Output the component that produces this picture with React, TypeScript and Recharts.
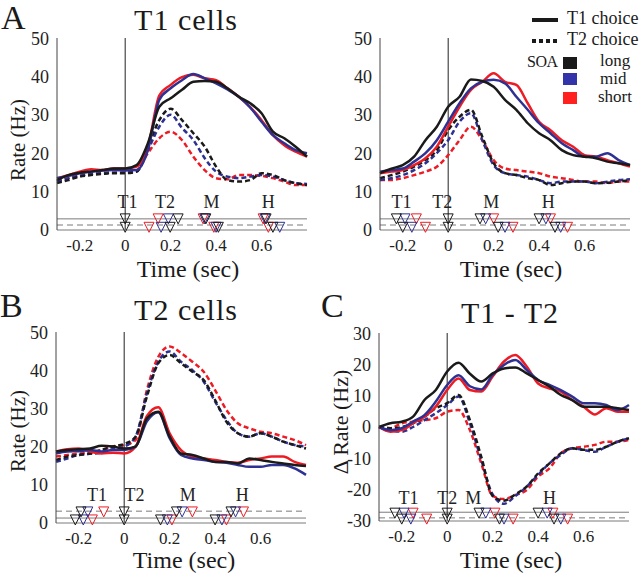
import { ComposedChart, Line, Scatter, XAxis, YAxis, ReferenceLine } from 'recharts'

const FONT = "'Liberation Serif', 'Times New Roman', serif"
const BLACK = '#1a1a1a'
const BLUE = '#2e3192'
const RED = '#ed1c24'
const GRID = '#7a7a7a'

// time axis (sec)
const TIME = [-0.3, -0.25, -0.2, -0.15, -0.1, -0.05, 0, 0.05, 0.1, 0.15, 0.2, 0.25, 0.3, 0.35, 0.4, 0.45, 0.5, 0.55, 0.6, 0.65, 0.7, 0.75, 0.8]
const X_TICKS = [-0.2, 0, 0.2, 0.4, 0.6]
const RATE_TICKS = [0, 10, 20, 30, 40, 50]
const DIFF_TICKS = [-30, -20, -10, 0, 10, 20, 30]

// A, left: T1 cells aligned on T1
const A1_SOLID_LONG = [13, 14.3, 14.9, 15.2, 15.6, 16, 16, 16.9, 22.6, 32.1, 34.3, 36.5, 38.6, 38.8, 38.6, 36.9, 34.7, 33, 30.4, 25.6, 23.9, 21.7, 19.1]
const A1_SOLID_MID = [13.5, 14.1, 14.8, 15.2, 15.5, 15.6, 15.5, 15.6, 20.8, 33.9, 36.9, 39, 40.6, 39.5, 38.2, 36.6, 34.7, 31.9, 28.2, 24.7, 22.6, 20.8, 20]
const A1_SOLID_SHORT = [13.5, 14.3, 15.2, 15.8, 15.6, 16, 16, 16.5, 21.7, 35, 37.8, 39.8, 40.4, 39.5, 39, 36.9, 34.7, 32, 28.6, 24.7, 22.1, 20.4, 19.1]
const A1_DASH_LONG = [12.2, 13, 13.9, 14.3, 14.6, 14.8, 14.8, 15.2, 21.7, 28.6, 31.6, 28.6, 25.2, 21.7, 16.5, 13, 12.6, 13, 14.8, 14.3, 13, 12.2, 11.7]
const A1_DASH_MID = [12.6, 13.5, 14.1, 14.6, 14.8, 14.9, 14.9, 15.2, 20.8, 26.9, 30, 26.6, 23.4, 18.7, 15.2, 13.9, 13.5, 13.9, 14.3, 13.9, 13, 12.2, 12]
const A1_DASH_SHORT = [12.6, 13.5, 14.1, 14.6, 14.8, 14.9, 14.9, 15.5, 20, 23.9, 25.6, 23.4, 19.1, 15.6, 13.5, 13.2, 14.3, 14.3, 14.1, 13.5, 12.6, 11.7, 11.7]

// A, right: T1 cells aligned on T2
const A2_SOLID_LONG = [14.8, 16, 16.9, 19.1, 23.4, 26.9, 32.1, 34.7, 39.2, 38.8, 37.3, 33.9, 31.3, 27.8, 25.2, 23.4, 20.8, 19.5, 19.1, 18.7, 17.8, 17.4, 16.9]
const A2_SOLID_MID = [15.2, 15.6, 16, 17.8, 20, 23.4, 28.2, 33, 36.9, 38.6, 39.1, 38.2, 34.7, 31.3, 27.8, 25.2, 22.6, 20.8, 19.1, 19.1, 20, 18.2, 16.9]
const A2_SOLID_SHORT = [14.8, 15.2, 15.6, 16.9, 18.7, 21.7, 26.9, 32.1, 36.5, 38.6, 40.8, 38.6, 37.8, 33, 28.2, 26, 23.4, 21.7, 19.5, 19.1, 18.2, 17.4, 16.5]
const A2_DASH_LONG = [13.5, 14.3, 15.2, 16.5, 18.2, 20.8, 26, 29.5, 31.3, 24.3, 17.4, 14.8, 14.3, 13.5, 13, 11.7, 12.2, 12.6, 12.6, 12.2, 12.3, 12.6, 13]
const A2_DASH_MID = [13, 13.5, 14.3, 15.6, 17.4, 20, 23.4, 28.2, 30.4, 23.4, 16.9, 14.8, 14.3, 13.9, 13, 12.2, 12.6, 12.6, 12.6, 12.2, 12.6, 13, 13.2]
const A2_DASH_SHORT = [13, 13, 13.5, 14.3, 15.2, 16.5, 19.5, 23.4, 26.9, 23.4, 18.2, 16, 15.6, 15.2, 14.8, 13.9, 13.5, 13, 12.6, 12.6, 12.2, 12.6, 12.6]

// B: T2 cells aligned on T2
const B_SOLID_LONG = [18.7, 19.1, 19.3, 19.5, 20.2, 20, 19.5, 20, 27.4, 29.1, 22.6, 18.2, 17.8, 16.9, 16, 16, 15.6, 16.9, 16.5, 16, 15.6, 15.2, 14.9]
const B_SOLID_MID = [18.2, 18.7, 18.8, 19.1, 18.7, 19.1, 19.1, 20, 26.6, 29, 22.2, 17.8, 16.9, 16.5, 16, 15.8, 15.2, 14.7, 14.7, 15.2, 15.2, 14.3, 12.6]
const B_SOLID_SHORT = [18.7, 19.3, 19.5, 18.7, 18.2, 18.4, 18.2, 20, 28, 30.3, 23.5, 19.1, 17.4, 16.9, 16.5, 16, 15.8, 16.5, 16.9, 17.4, 17.4, 16, 15.2]
const B_DASH_LONG = [16.5, 17.4, 17.8, 18.2, 19.1, 20, 20.7, 22.6, 33.1, 41.8, 44, 41.8, 39.6, 37.4, 32.2, 26.5, 23.5, 22.6, 23.5, 22.6, 21.3, 20.4, 19.5]
const B_DASH_MID = [16, 16.9, 17.8, 18.1, 18.4, 19.3, 20, 22.6, 34, 42.2, 44.9, 42.2, 40, 37, 31.8, 27, 23.5, 22.6, 23.5, 22.6, 21.3, 20.4, 20]
const B_DASH_SHORT = [17.4, 17.8, 18.2, 18.4, 19.1, 20, 20.4, 21.7, 34.8, 43.5, 46.2, 44.5, 42.2, 39.6, 34.8, 29.6, 26.1, 24.8, 23.9, 23.5, 22.6, 21.7, 20.4]

// C: T1 - T2 difference
const C_SOLID_LONG = [0, 1.2, 1.7, 3.3, 8.6, 11.8, 17.7, 20.5, 17, 14.5, 17.1, 18.7, 19, 17.1, 15, 12.9, 10.2, 8.6, 6.5, 6.5, 6.5, 6, 5.4]
const C_SOLID_MID = [0, -1, -0.4, 1.7, 3.8, 8.1, 13.4, 16.5, 13, 12, 16.6, 19.8, 21.4, 18.2, 15, 13.4, 11.8, 9.7, 7.6, 7.6, 7, 5.4, 7]
const C_SOLID_SHORT = [0, -1.5, -1, 1.2, 3.3, 6.5, 11.8, 15.5, 11.8, 11.3, 16.1, 20.9, 23, 19.3, 13.9, 12.3, 11.3, 8.6, 6.5, 4, 6, 4.9, 4.9]
const C_DASH_LONG = [0, -0.4, 0, 1.2, 3.3, 6, 7.6, 10.2, 2.2, -9.5, -22, -23.5, -21.5, -19, -14.8, -11.6, -8.4, -6.8, -7.3, -7.3, -6.3, -4.7, -3.6]
const C_DASH_MID = [0, -1, -1.5, 0, 2.2, 4.4, 7, 9.7, 1.2, -10.5, -21.5, -24.5, -22, -19, -15.3, -11.6, -8.9, -6.8, -7.3, -7.9, -6.3, -4.7, -3.6]
const C_DASH_SHORT = [0, -0.4, 1.2, 1.7, 2.2, 2.8, 4.9, 5.4, -1, -11.6, -22, -23, -21.7, -20.1, -15.8, -13.2, -8.4, -6.8, -6.3, -5.7, -4.7, -4.7, -4.1]

// event markers (triangles), per SOA
const A1_MARK_LONG = [{ t: 0, v: 2.9 }, { t: 0, v: 0.7 }, { t: 0.233, v: 2.9 }, { t: 0.198, v: 0.7 }, { t: 0.355, v: 2.9 }, { t: 0.41, v: 0.7 }, { t: 0.62, v: 2.9 }, { t: 0.65, v: 0.7 }]
const A1_MARK_MID = [{ t: 0.19, v: 2.9 }, { t: 0.158, v: 0.7 }, { t: 0.35, v: 2.9 }, { t: 0.4, v: 0.7 }, { t: 0.615, v: 2.9 }, { t: 0.68, v: 0.7 }]
const A1_MARK_SHORT = [{ t: 0.145, v: 2.9 }, { t: 0.105, v: 0.7 }, { t: 0.343, v: 2.9 }, { t: 0.39, v: 0.7 }, { t: 0.607, v: 2.9 }, { t: 0.63, v: 0.7 }]

const A2_MARK_LONG = [{ t: -0.228, v: 2.9 }, { t: -0.2, v: 0.7 }, { t: 0, v: 2.9 }, { t: 0, v: 0.7 }, { t: 0.14, v: 2.9 }, { t: 0.22, v: 0.7 }, { t: 0.4, v: 2.9 }, { t: 0.47, v: 0.7 }]
const A2_MARK_MID = [{ t: -0.19, v: 2.9 }, { t: -0.16, v: 0.7 }, { t: 0.165, v: 2.9 }, { t: 0.25, v: 0.7 }, { t: 0.43, v: 2.9 }, { t: 0.495, v: 0.7 }]
const A2_MARK_SHORT = [{ t: -0.14, v: 2.9 }, { t: -0.1, v: 0.7 }, { t: 0.2, v: 2.9 }, { t: 0.285, v: 0.7 }, { t: 0.45, v: 2.9 }, { t: 0.525, v: 0.7 }]

const B_MARK_LONG = [{ t: -0.19, v: 2.9 }, { t: -0.215, v: 0.8 }, { t: 0, v: 2.9 }, { t: 0, v: 0.8 }, { t: 0.23, v: 2.9 }, { t: 0.16, v: 0.8 }, { t: 0.47, v: 2.9 }, { t: 0.4, v: 0.8 }]
const B_MARK_MID = [{ t: -0.16, v: 2.9 }, { t: -0.18, v: 0.8 }, { t: 0.255, v: 2.9 }, { t: 0.19, v: 0.8 }, { t: 0.49, v: 2.9 }, { t: 0.43, v: 0.8 }]
const B_MARK_SHORT = [{ t: -0.09, v: 2.9 }, { t: -0.14, v: 0.8 }, { t: 0.3, v: 2.9 }, { t: 0.21, v: 0.8 }, { t: 0.525, v: 2.9 }, { t: 0.45, v: 0.8 }]

const C_MARK_LONG = [{ t: -0.23, v: -27.5 }, { t: -0.2, v: -29.4 }, { t: 0, v: -27.5 }, { t: 0, v: -29.4 }, { t: 0.14, v: -27.5 }, { t: 0.23, v: -29.4 }, { t: 0.4, v: -27.5 }, { t: 0.47, v: -29.4 }]
const C_MARK_MID = [{ t: -0.19, v: -27.5 }, { t: -0.16, v: -29.4 }, { t: 0.17, v: -27.5 }, { t: 0.25, v: -29.4 }, { t: 0.44, v: -27.5 }, { t: 0.5, v: -29.4 }]
const C_MARK_SHORT = [{ t: -0.15, v: -27.5 }, { t: -0.09, v: -29.4 }, { t: 0.21, v: -27.5 }, { t: 0.29, v: -29.4 }, { t: 0.465, v: -27.5 }, { t: 0.53, v: -29.4 }]

// event names above the markers
const A1_EVENTS = [{ t: 0.01, v: 7.4, name: 'T1' }, { t: 0.175, v: 7.4, name: 'T2' }, { t: 0.38, v: 7.4, name: 'M' }, { t: 0.63, v: 7.4, name: 'H' }]
const A2_EVENTS = [{ t: -0.205, v: 7.4, name: 'T1' }, { t: -0.026, v: 7.4, name: 'T2' }, { t: 0.19, v: 7.4, name: 'M' }, { t: 0.44, v: 7.4, name: 'H' }]
const B_EVENTS = [{ t: -0.12, v: 7.3, name: 'T1' }, { t: 0.045, v: 7.3, name: 'T2' }, { t: 0.28, v: 7.3, name: 'M' }, { t: 0.52, v: 7.3, name: 'H' }]
const C_EVENTS = [{ t: -0.17, v: -22.5, name: 'T1' }, { t: 0.0, v: -22.5, name: 'T2' }, { t: 0.115, v: -22.5, name: 'M' }, { t: 0.45, v: -22.5, name: 'H' }]

const build = (sl: number[], sm: number[], ss: number[], dl: number[], dm: number[], ds: number[]) =>
  TIME.map((t, i) => ({ t, sl: sl[i], sm: sm[i], ss: ss[i], dl: dl[i], dm: dm[i], ds: ds[i] }))

const SERIES = [
  { key: 'ds', color: RED, dashed: true },
  { key: 'dm', color: BLUE, dashed: true },
  { key: 'dl', color: BLACK, dashed: true },
  { key: 'ss', color: RED, dashed: false },
  { key: 'sm', color: BLUE, dashed: false },
  { key: 'sl', color: BLACK, dashed: false },
]

const triangle = (color: string) => (p: any) => {
  const { cx, cy } = p
  return <path d={`M${cx - 5},${cy - 5}L${cx + 5},${cy - 5}L${cx},${cy + 5}Z`} fill="none" stroke={color} strokeWidth={1} />
}

const eventText = (p: any) => (
  <text x={p.cx} y={p.cy} textAnchor="middle" dominantBaseline="central" fontSize={18} fontFamily={FONT} fill="#222">
    {p.payload.name}
  </text>
)

const ML = 60, MT = 10, MR = 10, XH = 40

function Panel({ px, py, pw, ph, data, domain, yTicks, marks, events, lines }: any) {
  return (
    <div style={{ position: 'absolute', left: px - ML, top: py - MT }}>
      <ComposedChart width={pw + ML + MR} height={ph + MT + XH} data={data} margin={{ top: MT, right: MR, left: 0, bottom: 0 }}>
        <XAxis type="number" dataKey="t" domain={[-0.3, 0.8]} ticks={X_TICKS} height={XH} tickLine={false}
          axisLine={{ stroke: GRID }} tickMargin={3} tick={{ fontSize: 17, fill: '#222', fontFamily: FONT }} />
        <YAxis type="number" domain={domain} ticks={yTicks} width={ML} tickLine={false}
          axisLine={{ stroke: '#444' }} tick={{ fontSize: 18, fill: '#222', fontFamily: FONT }} />
        {lines.map((l: any, i: number) => (
          <ReferenceLine key={i} y={l.y} stroke={GRID} strokeWidth={1} strokeDasharray={l.dashed ? '6 4' : undefined} />
        ))}
        <ReferenceLine x={0} stroke="#222" strokeWidth={1} />
        {SERIES.map(s => (
          <Line key={s.key} dataKey={s.key} type="monotone" stroke={s.color} strokeWidth={2.5}
            strokeDasharray={s.dashed ? '5 3' : undefined} dot={false} activeDot={false} isAnimationActive={false} />
        ))}
        <Scatter data={marks[2]} dataKey="v" shape={triangle(RED)} isAnimationActive={false} />
        <Scatter data={marks[1]} dataKey="v" shape={triangle(BLUE)} isAnimationActive={false} />
        <Scatter data={marks[0]} dataKey="v" shape={triangle(BLACK)} isAnimationActive={false} />
        <Scatter data={events} dataKey="v" shape={eventText} isAnimationActive={false} />
      </ComposedChart>
    </div>
  )
}

const txt = (style: any, size: number): any => ({
  position: 'absolute', fontFamily: FONT, fontSize: size, lineHeight: 1, whiteSpace: 'nowrap', color: '#1a1a1a', ...style,
})

function YLabel({ cx, cy, size, children }: any) {
  return (
    <div style={txt({ left: cx, top: cy, transform: 'translate(-50%, -50%) rotate(-90deg)' }, size)}>{children}</div>
  )
}

export default function App() {
  const dataA1 = build(A1_SOLID_LONG, A1_SOLID_MID, A1_SOLID_SHORT, A1_DASH_LONG, A1_DASH_MID, A1_DASH_SHORT)
  const dataA2 = build(A2_SOLID_LONG, A2_SOLID_MID, A2_SOLID_SHORT, A2_DASH_LONG, A2_DASH_MID, A2_DASH_SHORT)
  const dataB = build(B_SOLID_LONG, B_SOLID_MID, B_SOLID_SHORT, B_DASH_LONG, B_DASH_MID, B_DASH_SHORT)
  const dataC = build(C_SOLID_LONG, C_SOLID_MID, C_SOLID_SHORT, C_DASH_LONG, C_DASH_MID, C_DASH_SHORT)

  return (
    <div style={{ position: 'absolute', left: 0, top: 0, width: 640, height: 575, background: '#fff', overflow: 'hidden' }}>
      <Panel px={57} py={38} pw={250} ph={192} data={dataA1} domain={[0, 50]} yTicks={RATE_TICKS}
        marks={[A1_MARK_LONG, A1_MARK_MID, A1_MARK_SHORT]} events={A1_EVENTS}
        lines={[{ y: 2.9 }, { y: 1.3, dashed: true }]} />
      <Panel px={380} py={38} pw={250} ph={192} data={dataA2} domain={[0, 50]} yTicks={RATE_TICKS}
        marks={[A2_MARK_LONG, A2_MARK_MID, A2_MARK_SHORT]} events={A2_EVENTS}
        lines={[{ y: 2.9 }, { y: 1.3, dashed: true }]} />
      <Panel px={56} py={332} pw={250} ph={191} data={dataB} domain={[0, 50]} yTicks={RATE_TICKS}
        marks={[B_MARK_LONG, B_MARK_MID, B_MARK_SHORT]} events={B_EVENTS}
        lines={[{ y: 3.1, dashed: true }, { y: 1.3 }]} />
      <Panel px={379} py={333} pw={250} ph={188} data={dataC} domain={[-30, 30]} yTicks={DIFF_TICKS}
        marks={[C_MARK_LONG, C_MARK_MID, C_MARK_SHORT]} events={C_EVENTS}
        lines={[{ y: -27.2 }, { y: -29, dashed: true }]} />

      {/* panel letters and titles */}
      <div style={txt({ left: 1, top: 1 }, 34)}>A</div>
      <div style={txt({ left: 0, top: 289 }, 34)}>B</div>
      <div style={txt({ left: 321, top: 289 }, 34)}>C</div>
      <div style={txt({ left: 86, top: 5, width: 200, textAlign: 'center', letterSpacing: 1 }, 30)}>T1 cells</div>
      <div style={txt({ left: 86, top: 295, width: 200, textAlign: 'center', letterSpacing: 1 }, 30)}>T2 cells</div>
      <div style={txt({ left: 410, top: 298, width: 200, textAlign: 'center', letterSpacing: 1 }, 30)}>T1 - T2</div>

      {/* axis titles */}
      <div style={txt({ left: 88, top: 257, width: 200, textAlign: 'center' }, 24)}>Time (sec)</div>
      <div style={txt({ left: 411, top: 257, width: 200, textAlign: 'center' }, 24)}>Time (sec)</div>
      <div style={txt({ left: 84, top: 548, width: 200, textAlign: 'center' }, 24)}>Time (sec)</div>
      <div style={txt({ left: 411, top: 548, width: 200, textAlign: 'center' }, 24)}>Time (sec)</div>
      <YLabel cx={18} cy={140} size={21}>Rate (Hz)</YLabel>
      <YLabel cx={18} cy={431} size={21}>Rate (Hz)</YLabel>
      <YLabel cx={341} cy={422} size={22}>Δ Rate (Hz)</YLabel>

      {/* legend */}
      <svg style={{ position: 'absolute', left: 532, top: 16 }} width={27} height={30}>
        <line x1={0} y1={4} x2={26} y2={4} stroke={BLACK} strokeWidth={4} />
        <line x1={0} y1={25} x2={26} y2={25} stroke={BLACK} strokeWidth={4} strokeDasharray="4 3" />
      </svg>
      <div style={txt({ left: 567, top: 9 }, 18)}>T1 choice</div>
      <div style={txt({ left: 567, top: 30 }, 18)}>T2 choice</div>
      <div style={txt({ left: 527, top: 54, letterSpacing: -0.5 }, 16)}>SOA</div>
      <div style={{ position: 'absolute', left: 563, top: 57, width: 14, height: 12, background: BLACK }} />
      <div style={{ position: 'absolute', left: 563, top: 73, width: 14, height: 12, background: '#3333aa' }} />
      <div style={{ position: 'absolute', left: 563, top: 92, width: 14, height: 12, background: '#ff2020' }} />
      <div style={txt({ left: 600, top: 52 }, 17)}>long</div>
      <div style={txt({ left: 600, top: 70 }, 17)}>mid</div>
      <div style={txt({ left: 598, top: 88 }, 17)}>short</div>
    </div>
  )
}
